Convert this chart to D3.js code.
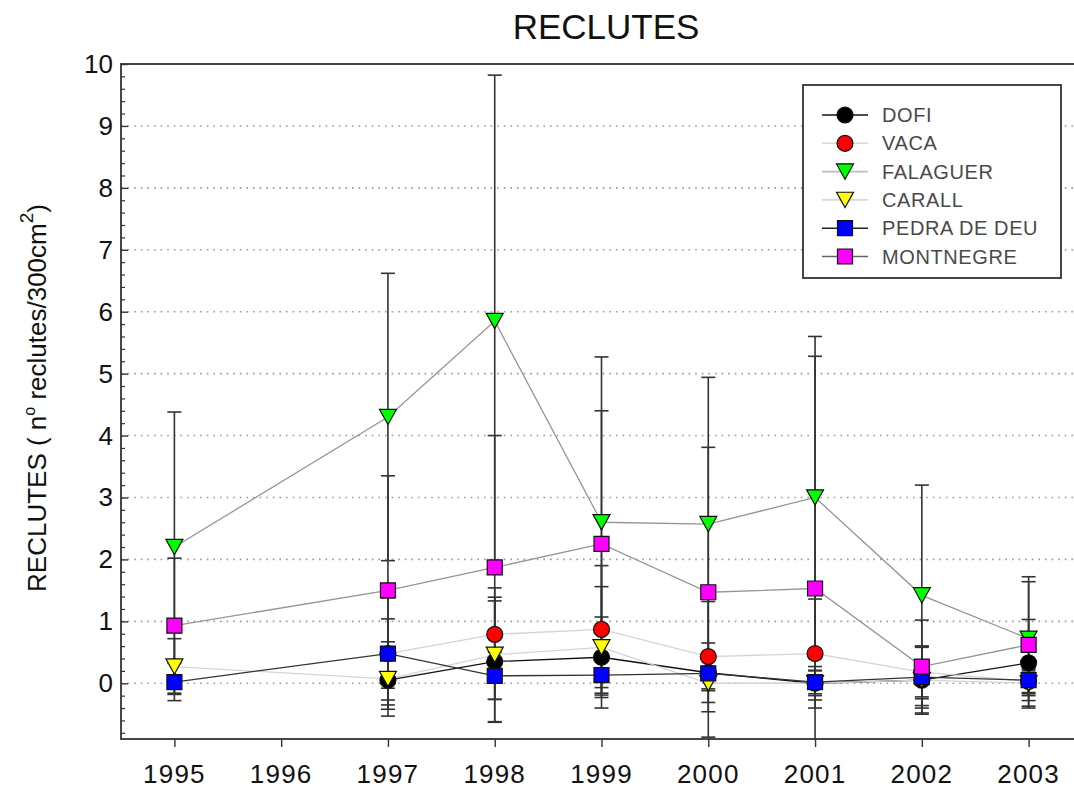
<!DOCTYPE html>
<html>
<head>
<meta charset="utf-8">
<script src="https://cdn.jsdelivr.net/npm/d3@7"></script>
<style>
  html, body { margin: 0; padding: 0; background: #fff; }
  svg { display: block; font-family: "Liberation Sans", Arial, sans-serif; }
</style>
</head>
<body>
<svg id="chart" width="1074" height="789"></svg>
<script>
// Survey years (1996 has no samples)
const years = [1995, 1997, 1998, 1999, 2000, 2001, 2002, 2003];
const xTickYears = [1995, 1996, 1997, 1998, 1999, 2000, 2001, 2002, 2003];
const yTicks = [0, 1, 2, 3, 4, 5, 6, 7, 8, 9, 10];

// Mean recruits per 300 cm2 and standard deviation, per site
const dofi        = [null, 0.05, 0.35, 0.42, 0.17, 0.00, 0.05, 0.33];
const dofiSd      = [null, 0.32, 0.98, 0.65, 0.48, 0.27, 0.30, 0.70];
const vaca        = [null, 0.48, 0.79, 0.87, 0.43, 0.48, 0.18, 0.03];
const vacaSd      = [null, 0.90, 0.60, 1.03, 0.89, 0.88, 0.40, 0.20];
const falaguer    = [2.20, 4.30, 5.85, 2.60, 2.57, 3.00, 1.42, 0.72];
const falaguerSd  = [2.18, 2.32, 3.97, 2.67, 2.37, 2.60, 1.78, 1.00];
const carall      = [0.27, 0.07, 0.46, 0.58, 0.00, 0.00, 0.05, 0.00];
const carallSd    = [0.45, 0.60, 1.08, 0.98, 0.12, 0.20, 0.55, 0.20];
const pedra       = [0.02, 0.48, 0.12, 0.13, 0.16, 0.02, 0.10, 0.05];
const pedraSd     = [0.30, 0.56, 0.38, 0.32, 0.25, 0.19, 0.50, 0.20];
const montnegre   = [0.93, 1.50, 1.87, 2.25, 1.47, 1.53, 0.27, 0.62];
const montnegreSd = [1.09, 1.85, 2.13, 2.15, 2.34, 3.75, 0.75, 1.02];

const series = [
  { name: "DOFI",         values: dofi,      sd: dofiSd,      shape: d3.symbolCircle,   fill: "#000000", line: "#111111", legendLine: "#111111" },
  { name: "VACA",         values: vaca,      sd: vacaSd,      shape: d3.symbolCircle,   fill: "#ff0000", line: "#d4d4d4", legendLine: "#d8d8d8" },
  { name: "FALAGUER",     values: falaguer,  sd: falaguerSd,  shape: "tri",             fill: "#00ff00", line: "#959595", legendLine: "#bdbdbd" },
  { name: "CARALL",       values: carall,    sd: carallSd,    shape: "tri",             fill: "#ffff00", line: "#d4d4d4", legendLine: "#d8d8d8" },
  { name: "PEDRA DE DEU", values: pedra,     sd: pedraSd,     shape: d3.symbolSquare,   fill: "#0000ff", line: "#333333", legendLine: "#222222" },
  { name: "MONTNEGRE",    values: montnegre, sd: montnegreSd, shape: d3.symbolSquare,   fill: "#ff00ff", line: "#959595", legendLine: "#666666" }
];

const svg = d3.select("#chart");
const plot = { left: 121, top: 64, right: 1082, bottom: 739 };

const x = d3.scaleLinear().domain([1994.5, 2003.5]).range([plot.left, plot.right]);
const y = d3.scaleLinear().domain([-0.9, 10]).range([plot.bottom, plot.top]);

svg.append("defs").append("clipPath").attr("id", "plotClip")
  .append("rect")
  .attr("x", plot.left).attr("y", plot.top)
  .attr("width", plot.right - plot.left).attr("height", plot.bottom - plot.top);

// Title
svg.append("text")
  .attr("x", 606).attr("y", 39)
  .attr("text-anchor", "middle")
  .attr("font-size", 35)
  .attr("fill", "#111")
  .text("RECLUTES");

// Dotted horizontal gridlines
svg.append("g")
  .selectAll("line")
  .data(yTicks.filter(v => v < 10))
  .join("line")
  .attr("x1", plot.left).attr("x2", plot.right)
  .attr("y1", d => y(d)).attr("y2", d => y(d))
  .attr("stroke", "#9a9a9a")
  .attr("stroke-width", 1.6)
  .attr("stroke-dasharray", "1.6,5");

// Y axis: major ticks with labels, minor ticks every 0.2 pointing inward
const yAxis = d3.axisRight(y)
  .tickValues(yTicks)
  .tickSize(7)
  .tickFormat("");
const yAxisG = svg.append("g")
  .attr("transform", `translate(${plot.left},0)`)
  .call(yAxis);
yAxisG.select(".domain").remove();
yAxisG.selectAll("line").attr("stroke", "#333").attr("stroke-width", 1.4);

const minorVals = d3.range(-8, 100, 2).map(v => v / 10).filter(v => Math.abs(v - Math.round(v)) > 1e-6);
const yMinor = d3.axisRight(y).tickValues(minorVals).tickSize(4).tickFormat("");
const yMinorG = svg.append("g").attr("transform", `translate(${plot.left},0)`).call(yMinor);
yMinorG.select(".domain").remove();
yMinorG.selectAll("line").attr("stroke", "#333").attr("stroke-width", 1.2);

svg.append("g")
  .selectAll("text")
  .data(yTicks)
  .join("text")
  .attr("x", 113)
  .attr("y", d => y(d) + 9)
  .attr("text-anchor", "end")
  .attr("font-size", 26)
  .attr("fill", "#111")
  .text(d => d);

// X axis ticks pointing outward
const xAxis = d3.axisBottom(x).tickValues(xTickYears).tickSize(8).tickFormat("");
const xAxisG = svg.append("g").attr("transform", `translate(0,${plot.bottom})`).call(xAxis);
xAxisG.select(".domain").remove();
xAxisG.selectAll("line").attr("stroke", "#333").attr("stroke-width", 1.4);

svg.append("g")
  .selectAll("text")
  .data(xTickYears)
  .join("text")
  .attr("x", d => x(d))
  .attr("y", 783)
  .attr("text-anchor", "middle")
  .attr("font-size", 26)
  .attr("letter-spacing", 1.2)
  .attr("fill", "#111")
  .text(d => d);

// Plot frame
svg.append("rect")
  .attr("x", plot.left).attr("y", plot.top)
  .attr("width", plot.right - plot.left).attr("height", plot.bottom - plot.top)
  .attr("fill", "none")
  .attr("stroke", "#333")
  .attr("stroke-width", 1.8);

// Y axis title
const yTitle = svg.append("text")
  .attr("transform", "translate(46,398) rotate(-90)")
  .attr("text-anchor", "middle")
  .attr("font-size", 26)
  .attr("fill", "#111");
yTitle.append("tspan").text("RECLUTES ( n");
yTitle.append("tspan").attr("font-size", 16).attr("dy", -11).text("o");
yTitle.append("tspan").attr("dy", 11).text(" reclutes/300cm");
yTitle.append("tspan").attr("font-size", 19).attr("dy", -13).text("2");
yTitle.append("tspan").attr("dy", 13).text(")");

const data = series.map(s => ({
  ...s,
  points: years.map((yr, i) => ({ year: yr, v: s.values[i], sd: s.sd[i] })).filter(p => p.v !== null)
}));

const layer = svg.append("g").attr("clip-path", "url(#plotClip)");

// Error bars (symmetric, with caps)
const capHalf = 7;
data.forEach(s => {
  const g = layer.append("g");
  s.points.forEach(p => {
    const cx = x(p.year);
    const lo = p.v - p.sd, hi = p.v + p.sd;
    g.append("line").attr("x1", cx).attr("x2", cx).attr("y1", y(lo)).attr("y2", y(hi))
      .attr("stroke", "#333").attr("stroke-width", 1.6);
    [lo, hi].forEach(e => {
      g.append("line").attr("x1", cx - capHalf).attr("x2", cx + capHalf)
        .attr("y1", y(e)).attr("y2", y(e))
        .attr("stroke", "#333").attr("stroke-width", 1.6);
    });
  });
});

// Connecting lines
const lineGen = d3.line().x(p => x(p.year)).y(p => y(p.v));
data.forEach(s => {
  layer.append("path")
    .attr("d", lineGen(s.points))
    .attr("fill", "none")
    .attr("stroke", s.line)
    .attr("stroke-width", 1.3);
});

// Symbols
const triPath = (size) => {
  const h = size * 0.9;
  return `M${-size / 2},${-h / 2}L${size / 2},${-h / 2}L0,${h / 2}Z`;
};
const symbolPath = (shape) => {
  if (shape === "tri") return triPath(17);
  if (shape === d3.symbolSquare) return d3.symbol(shape, 225)();
  return d3.symbol(shape, 200)();
};
data.forEach(s => {
  layer.append("g")
    .selectAll("path")
    .data(s.points)
    .join("path")
    .attr("transform", p => `translate(${x(p.year)},${y(p.v)})`)
    .attr("d", symbolPath(s.shape))
    .attr("fill", s.fill)
    .attr("stroke", "#111")
    .attr("stroke-width", 1.2);
});

// Legend
const legend = svg.append("g");
legend.append("rect")
  .attr("x", 803).attr("y", 85).attr("width", 258).attr("height", 193)
  .attr("fill", "#fff").attr("stroke", "#333").attr("stroke-width", 1.8);
series.forEach((s, i) => {
  const ly = 115 + i * 28.3;
  legend.append("line").attr("x1", 822).attr("x2", 868).attr("y1", ly).attr("y2", ly)
    .attr("stroke", s.legendLine).attr("stroke-width", 1.6);
  legend.append("path")
    .attr("transform", `translate(845,${ly})`)
    .attr("d", symbolPath(s.shape))
    .attr("fill", s.fill).attr("stroke", "#111").attr("stroke-width", 1.2);
  legend.append("text")
    .attr("x", 882).attr("y", ly + 7)
    .attr("font-size", 20)
    .attr("letter-spacing", 0.6)
    .attr("fill", "#4a4a4a")
    .text(s.name);
});
</script>
</body>
</html>
